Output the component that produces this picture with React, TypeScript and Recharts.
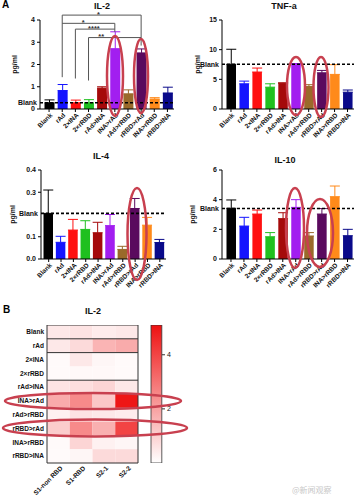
import React from "react";
import { BarChart, Bar, XAxis, YAxis, ErrorBar, ReferenceLine, Cell, Label } from "recharts";

const FONT = "'Liberation Sans', Arial, sans-serif";

const GROUPS = ["Blank", "rAd", "2×INA", "2×rRBD", "rAd>INA", "INA>rAd", "rAd>rRBD", "rRBD>rAd", "INA>rRBD", "rRBD>INA"];
const COLORS = ["#000000", "#1414ff", "#ff1010", "#1fc01f", "#a50a0a", "#a21ef0", "#9a6a2a", "#5a0a5e", "#ff8a1a", "#0a0a8a"];

// panel A values (mean, sd)
const IL2_MEAN = [0.28, 0.83, 0.28, 0.28, 0.94, 2.71, 0.68, 2.52, 0.45, 0.72];
const IL2_SD = [0.13, 0.27, 0.12, 0.14, 0.06, 0.76, 0.18, 0.18, 0.06, 0.26];
const TNF_MEAN = [7.53, 4.25, 6.23, 3.68, 4.36, 7.47, 3.8, 6.1, 5.83, 2.83];
const TNF_SD = [2.54, 0.45, 0.67, 0.57, 0.05, 0.2, 0.3, 0.4, 1.64, 0.37];
const IL4_MEAN = [0.205, 0.075, 0.13, 0.133, 0.118, 0.15, 0.043, 0.227, 0.152, 0.074];
const IL4_SD = [0.105, 0.027, 0.048, 0.039, 0.047, 0.05, 0.014, 0.045, 0.035, 0.014];
const IL10_MEAN = [3.42, 2.22, 3.03, 1.5, 2.72, 3.48, 1.55, 3.03, 4.2, 1.57];
const IL10_SD = [0.56, 0.59, 0.27, 0.28, 0.4, 0.52, 0.23, 0.37, 0.72, 0.43];

// significance brackets on IL-2 (frac = where the stars sit along the bracket)
const IL2_BRACKETS = [
  { from: "rAd", to: "rRBD>rAd", y: 4.22, stars: "*", frac: 0.46 },
  { from: "rAd", to: "INA>rAd", y: 3.85, stars: "*", frac: 0.4 },
  { from: "2×INA", to: "INA>rAd", y: 3.59, stars: "****", frac: 0.47 },
  { from: "2×rRBD", to: "rRBD>rAd", y: 3.21, stars: "**", frac: 0.24 },
];
const IL2_DROPS = [
  { x: "rAd", y1: 4.22, y2: 1.43 },
  { x: "2×INA", y1: 3.59, y2: 1.37 },
  { x: "2×rRBD", y1: 3.21, y2: 1.28 },
  { x: "INA>rAd", y1: 3.85, y2: 3.47 },
  { x: "rRBD>rAd", y1: 4.22, y2: 2.85 },
];

// panel B heatmap, one array per column
const HEAT_COLS = ["S1-non RBD", "S1-RBD", "S2-1", "S2-2"];
const HEAT_S1NON = [0.5, 0.5, 0.1, 0.1, 0.6, 1.8, 0.3, 1.1, 0.1, 0.1];
const HEAT_S1RBD = [0.6, 0.8, 0.5, 0.15, 0.7, 2.5, 0.6, 2.5, 0.9, 0.2];
const HEAT_S21 = [0.4, 1.6, 0.2, 0.15, 0.9, 1.2, 0.5, 1.7, 0.3, 0.8];
const HEAT_S22 = [0.5, 1.8, 0.1, 0.1, 0.5, 5.0, 0.4, 4.0, 0.2, 0.8];
const HEAT_MAX = 5.1;
const CELL = 1;

const heatColor = (v: number) => {
  const t = Math.max(0, Math.min(1, v / HEAT_MAX));
  const r = Math.round(255 - t * 17);
  const g = Math.round(255 - t * 238);
  const b = Math.round(255 - t * 238);
  return `rgb(${r},${g},${b})`;
};

const build = (mean: number[], sd: number[]) =>
  GROUPS.map((name, i) => ({ name, [`v${i}`]: mean[i], [`e${i}`]: [0, sd[i]] }));

function SlantTick({ x, y, payload, fs = 6.5, dx = 2, labels }: any) {
  const text = labels ? labels[Math.floor(payload.value)] : payload.value;
  return (
    <g transform={`translate(${x + dx},${y}) rotate(-45)`}>
      <text x={0} y={0} dy="0.35em" textAnchor="end" fontSize={fs} fontWeight={700} fontFamily={FONT} fill="#111">
        {text}
      </text>
    </g>
  );
}

const starLabel = (stars: string, frac: number) => (props: any) => {
  const vb = props.viewBox || {};
  const x = (vb.x ?? 0) + (vb.width ?? 0) * frac;
  const y = vb.y ?? 0;
  return (
    <text x={x} y={y + 1.5} textAnchor="middle" fontSize={7.5} fontWeight={700} fill="#333" fontFamily={FONT}>
      {stars}
    </text>
  );
};

type PanelProps = {
  mean: number[];
  sd: number[];
  domain: [number, number];
  ticks: number[];
  blank: number;
  left: number;
  top: number;
  width: number;
  yWidth: number;
  right: number;
  padLeft: number;
  barSize: number;
  labelX: number;
  tickFmt?: (v: number) => string;
  extra?: React.ReactNode;
};

function Panel(p: PanelProps) {
  const data = build(p.mean, p.sd);
  return (
    <div style={{ position: "absolute", left: p.left, top: p.top }}>
      <BarChart width={p.width} height={140} data={data} margin={{ top: 20, right: p.right, left: 0, bottom: 0 }} barCategoryGap={0}>
        <XAxis
          dataKey="name"
          interval={0}
          height={31}
          padding={{ left: p.padLeft, right: 0 }}
          tick={<SlantTick />}
          tickSize={3}
          stroke="#000"
        />
        <YAxis
          domain={p.domain}
          ticks={p.ticks}
          width={p.yWidth}
          tickSize={3}
          tickMargin={2}
          stroke="#000"
          allowDataOverflow
          tickFormatter={p.tickFmt}
          tick={{ fontSize: 7, fontWeight: 700, fill: "#111", fontFamily: FONT }}
          label={{ value: "pg/ml", angle: -90, position: "insideLeft", offset: p.labelX, style: { textAnchor: "middle" }, fontSize: 7, fontWeight: 700, fill: "#111", fontFamily: FONT }}
        />
        {GROUPS.map((g, i) => (
          <Bar key={g} dataKey={`v${i}`} stackId="s" fill={COLORS[i]} barSize={p.barSize} isAnimationActive={false}>
            <ErrorBar dataKey={`e${i}`} stroke={COLORS[i]} strokeWidth={1} width={5} />
          </Bar>
        ))}
        <ReferenceLine
          y={p.blank}
          stroke="#000"
          strokeWidth={1.6}
          strokeDasharray="3 2"
          label={{ value: "Blank", position: "left", offset: 3, fontSize: 7, fontWeight: 700, fill: "#111", fontFamily: FONT }}
        />
        {p.extra}
      </BarChart>
    </div>
  );
}

const il2Marks = [
  ...IL2_BRACKETS.map((b) => (
    <ReferenceLine
      key={`b-${b.from}-${b.to}`}
      segment={[{ x: b.from, y: b.y }, { x: b.to, y: b.y }]}
      stroke="#555"
      strokeWidth={1}
      ifOverflow="visible"
      label={<Label content={starLabel(b.stars, b.frac)} />}
    />
  )),
  ...IL2_DROPS.map((d) => (
    <ReferenceLine
      key={`d-${d.x}-${d.y1}`}
      segment={[{ x: d.x, y: d.y1 }, { x: d.x, y: d.y2 }]}
      stroke="#555"
      strokeWidth={1}
      ifOverflow="visible"
    />
  )),
];

const heatData = GROUPS.map((name) => ({ name, c0: CELL, c1: CELL, c2: CELL, c3: CELL }));
const heatCols = [HEAT_S1NON, HEAT_S1RBD, HEAT_S21, HEAT_S22];
const CBAR = [{ name: "scale", v: HEAT_MAX }];

function Title({ x, y, children, size = 9 }: any) {
  return (
    <div style={{ position: "absolute", left: x - 40, top: y - size / 2 - 2, width: 80, textAlign: "center", fontFamily: FONT, fontWeight: 700, fontSize: size, lineHeight: `${size + 4}px`, color: "#111" }}>
      {children}
    </div>
  );
}

export default function App() {
  return (
    <div style={{ position: "absolute", left: 0, top: 0, width: 357, height: 500, background: "#fff", overflow: "hidden", fontFamily: FONT }}>
      <div style={{ position: "absolute", left: 2, top: -1, fontWeight: 700, fontSize: 10 }}>A</div>
      <div style={{ position: "absolute", left: 3, top: 304, fontWeight: 700, fontSize: 10 }}>B</div>
      <Title x={102} y={6}>IL-2</Title>
      <Title x={284} y={6}>TNF-a</Title>
      <Title x={101} y={156}>IL-4</Title>
      <Title x={285} y={160}>IL-10</Title>
      <Title x={93} y={311}>IL-2</Title>

      <Panel mean={IL2_MEAN} sd={IL2_SD} domain={[0, 4]} ticks={[0, 1, 2, 3, 4]} blank={0.28}
        left={0} top={0} width={180} yWidth={40} right={6} padLeft={2.5} barSize={10} labelX={15} extra={il2Marks} />
      <Panel mean={TNF_MEAN} sd={TNF_SD} domain={[0, 15]} ticks={[0, 5, 10, 15]} blank={7.53}
        left={180} top={0} width={177} yWidth={42} right={3} padLeft={2.5} barSize={9.5} labelX={18} />
      <Panel mean={IL4_MEAN} sd={IL4_SD} domain={[0, 0.4]} ticks={[0, 0.1, 0.3, 0.4]} blank={0.205}
        left={0} top={150} width={170} yWidth={41} right={4} padLeft={1.5} barSize={9.5} labelX={13}
        tickFmt={(v) => v.toFixed(1)} />
      <Panel mean={IL10_MEAN} sd={IL10_SD} domain={[0, 6]} ticks={[0, 2, 4, 6]} blank={3.4}
        left={180} top={150} width={177} yWidth={42} right={3} padLeft={2.5} barSize={9.5} labelX={13} />

      <div style={{ position: "absolute", left: 0, top: 325 }}>
        <BarChart width={140} height={183} data={heatData} layout="vertical" margin={{ top: 0, right: 2, left: 0, bottom: 0 }} barCategoryGap={0}>
          <XAxis type="number" domain={[0, 4]} ticks={[0.5, 1.5, 2.5, 3.5]} interval={0} height={45} axisLine={false} tickLine={false}
            tick={<SlantTick dx={3} labels={HEAT_COLS} />} tickSize={2} />
          <YAxis type="category" dataKey="name" width={47} axisLine={false} tickLine={false} tickSize={0} tickMargin={3}
            interval={0} tick={{ fontSize: 6.5, fontWeight: 700, fill: "#111", fontFamily: FONT }} />
          {heatCols.map((col, j) => (
            <Bar key={j} dataKey={`c${j}`} stackId="h" isAnimationActive={false}>
              {col.map((v, i) => (
                <Cell key={i} fill={heatColor(v)} />
              ))}
            </Bar>
          ))}
          <ReferenceLine y="Blank" position="start" stroke="#333" strokeWidth={1} />
          <ReferenceLine y="rAd" position="start" stroke="#333" strokeWidth={1} />
          <ReferenceLine y="2×INA" position="start" stroke="#333" strokeWidth={1} />
          <ReferenceLine y="rAd>INA" position="start" stroke="#333" strokeWidth={1} />
          <ReferenceLine y="rRBD>INA" position="end" stroke="#333" strokeWidth={1} />
          <ReferenceLine x={0} stroke="#333" strokeWidth={1} />
          <ReferenceLine x={4} stroke="#333" strokeWidth={1} />
        </BarChart>
      </div>

      <div style={{ position: "absolute", left: 150, top: 325 }}>
        <BarChart width={34} height={138} data={CBAR} margin={{ top: 0, right: 0, left: 0, bottom: 0 }} barCategoryGap={0}>
          <defs>
            <linearGradient id="cbarGrad" x1="0" y1="0" x2="0" y2="1">
              <stop offset="0%" stopColor={heatColor(HEAT_MAX)} />
              <stop offset="100%" stopColor="#ffffff" />
            </linearGradient>
          </defs>
          <XAxis dataKey="name" hide />
          <YAxis orientation="right" domain={[0, HEAT_MAX]} ticks={[2, 4]} width={22} axisLine={false} tickSize={3} tickMargin={2}
            stroke="#333" tick={{ fontSize: 7, fill: "#111", fontFamily: FONT }} />
          <Bar dataKey="v" fill="url(#cbarGrad)" stroke="#333" strokeWidth={0.8} barSize={12} isAnimationActive={false} />
        </BarChart>
      </div>

      <svg width={357} height={500} style={{ position: "absolute", left: 0, top: 0, pointerEvents: "none" }}>
        <g fill="none" stroke="#c8404f" strokeWidth={2.5}>
          <ellipse cx={115} cy={76} rx={8} ry={40} />
          <ellipse cx={141} cy={76} rx={7} ry={37} />
          <ellipse cx={296} cy={86} rx={9} ry={29} />
          <ellipse cx={321} cy={87} rx={7.5} ry={30} />
          <ellipse cx={137} cy={234} rx={9.5} ry={46} />
          <ellipse cx={295} cy={228} rx={9} ry={40} />
          <ellipse cx={320} cy={233} rx={13} ry={34} />
          <ellipse cx={93} cy={401} rx={88} ry={8} />
          <ellipse cx={95} cy={428} rx={92} ry={8.5} />
        </g>
      </svg>
      <div style={{ position: "absolute", left: 292, top: 484, fontSize: 8, color: "#c8c8c8", fontFamily: "'Noto Sans CJK SC', sans-serif" }}>
        @新闻观察
      </div>
    </div>
  );
}
